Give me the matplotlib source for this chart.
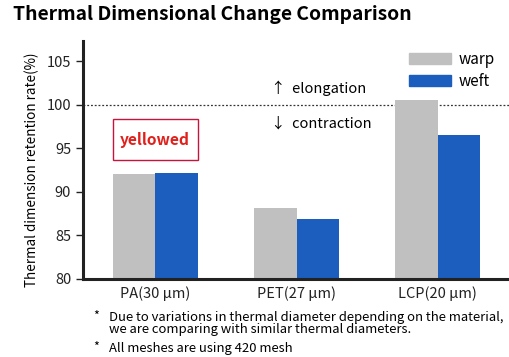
import numpy as np
import matplotlib
matplotlib.use("Agg")
import matplotlib.pyplot as plt
from matplotlib.patches import Rectangle, Patch

plt.rcParams['font.family'] = ['Noto Sans CJK JP', 'DejaVu Sans']

## data
materials = ['PA(30 µm)', 'PET(27 µm)', 'LCP(20 µm)']
warp = [92.0, 88.2, 100.5]
weft = [92.2, 86.9, 96.5]
yticks = [80, 85, 90, 95, 100, 105]
notes = ['Due to variations in thermal diameter depending on the material,\nwe are comparing with similar thermal diameters.',
         'All meshes are using 420 mesh']

gray = '#c0c0c0'
blue = '#1b5ebe'

fig = plt.figure(figsize=(5.1, 3.57), dpi=100)
ax = fig.add_axes([83/510, 1-279/357, 427/510, (279-41)/357])

x = np.arange(len(materials))
w = 0.3
ax.bar(x - w/2, warp, w, color=gray, label='warp')
ax.bar(x + w/2, weft, w, color=blue, label='weft')
ax.axhline(100, color='#333333', lw=0.9, ls=(0, (1.5, 1.5)), zorder=0)

ax.set_xlim(-0.51, 2.51)
ax.set_ylim(80, 107.3)
ax.set_yticks(yticks)
ax.set_xticks(x)
ax.set_xticklabels(materials)
ax.tick_params(axis='both', labelsize=10.5, colors='#222222')
ax.tick_params(axis='x', length=0, pad=5)
ax.tick_params(axis='y', length=5, width=1)
for s in ['top', 'right']:
    ax.spines[s].set_visible(False)
for s in ['left', 'bottom']:
    ax.spines[s].set_linewidth(2.2)
    ax.spines[s].set_color('#222222')

ax.set_ylabel('Thermal dimension retention rate(%)', fontsize=9.7)
ax.yaxis.set_label_coords(-44/427, 0.46)

# yellowed box
ax.add_patch(Rectangle((-w, 93.7), 2*w, 4.6, fill=False, ec='#c8143c', lw=1))
ax.text(0, 96.0, 'yellowed', color='#e0201c', fontsize=11.2, fontweight='bold',
        ha='center', va='center')

ax.text(0.82, 101.9, '↑  elongation', fontsize=10.5, va='center')
ax.text(0.82, 97.85, '↓  contraction', fontsize=10.5, va='center')

handles = [Patch(color=gray), Patch(color=blue)]
fig.legend(handles, ['warp', 'weft'], loc='upper left', bbox_to_anchor=(395/510, 1-37/357),
           frameon=False, fontsize=11, handlelength=2.75, handleheight=0.7,
           handletextpad=0.5, labelspacing=0.35)

fig.text(13/510, 1-15/357, 'Thermal Dimensional Change Comparison', fontsize=13.9,
         fontweight='bold', va='center')

fig.text(93/510, 1-316/357, '*', fontsize=9, va='center')
fig.text(109/510, 1-311/357, notes[0], fontsize=9.4, va='top', linespacing=0.95)
fig.text(93/510, 1-347/357, '*', fontsize=9, va='center')
fig.text(109/510, 1-342/357, notes[1], fontsize=9.4, va='top')

fig.savefig('out.png', dpi=100)
